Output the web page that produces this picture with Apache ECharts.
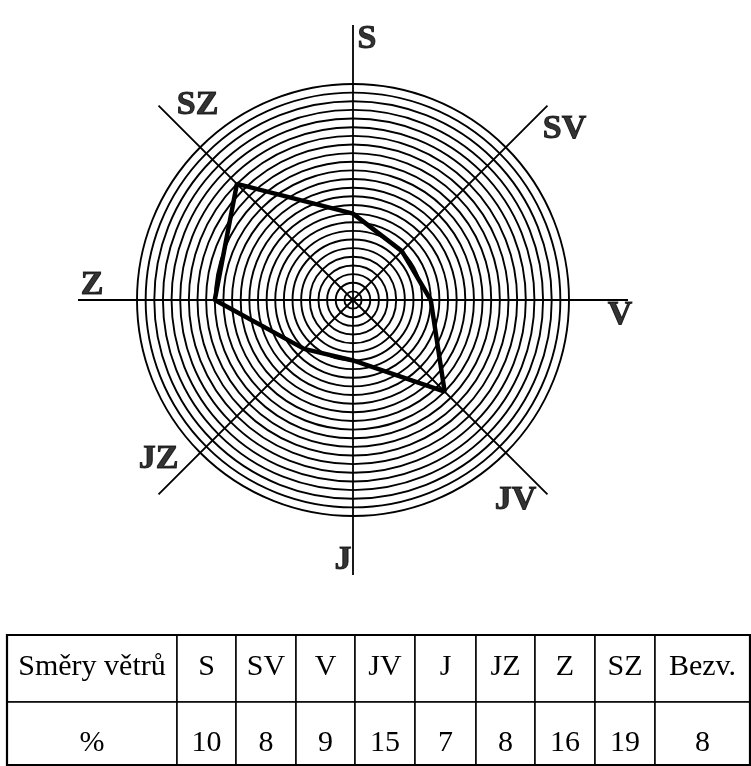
<!DOCTYPE html>
<html>
<head>
<meta charset="utf-8">
<script src="https://cdn.jsdelivr.net/npm/echarts@6/dist/echarts.min.js"></script>
<style>
  html, body { margin: 0; padding: 0; background: #fff; }
  #chart { width: 751px; height: 766px; }
</style>
</head>
<body>
<div id="chart"></div>
<script>
// směry větrů a jejich podíl (%)
const directions = ['S', 'SV', 'V', 'JV', 'J', 'JZ', 'Z', 'SZ']
const windShare = [10, 8, 9, 15, 7, 8, 16, 19]
const calmLabel = 'Bezv.'
const calmShare = 8
const ringMax = 25

// tabulka pod grafem
const headFirst = 'Směry větrů'
const rowFirst = '%'

const serif = '"Liberation Serif", "DejaVu Serif", serif'

// posun popisků od konců os (px)
const labelShift = {
  S: [14, 14], SV: [17, 24], V: [-8, 15], JV: [-32, 6],
  J: [-10, -15], JZ: [0, -35], Z: [14, -15], SZ: [39, 0]
}

const myChart = echarts.init(document.getElementById('chart'))

// úhel každého směru (ve stupních, po směru hodinových ručiček od severu)
const step = 360 / directions.length
const polyData = directions.map((d, i) => [windShare[i], i * step])
// uzavřít polygon
polyData.push([windShare[0], 360])

// tabulka
const colEdges = [7, 177, 236, 296, 355, 415, 476, 535, 595, 655, 750]
const rowEdges = [635, 702, 765]
const tableRows = [
  [headFirst].concat(directions, [calmLabel]),
  [rowFirst].concat(windShare.map(String), [String(calmShare)])
]
const textY = [667, 743]
const tableEls = []
tableRows.forEach((row, r) => {
  row.forEach((txt, c) => {
    tableEls.push({
      type: 'rect',
      shape: { x: colEdges[c], y: rowEdges[r], width: colEdges[c + 1] - colEdges[c], height: rowEdges[r + 1] - rowEdges[r] },
      style: { fill: '#fff', stroke: '#000', lineWidth: 1.5 }
    })
  })
})
tableEls.push({
  type: 'rect',
  shape: { x: colEdges[0], y: rowEdges[0], width: colEdges[colEdges.length - 1] - colEdges[0], height: rowEdges[2] - rowEdges[0] },
  style: { fill: 'none', stroke: '#000', lineWidth: 2.2 }
})
tableRows.forEach((row, r) => {
  row.forEach((txt, c) => {
    tableEls.push({
      type: 'text',
      x: (colEdges[c] + colEdges[c + 1]) / 2,
      y: textY[r],
      style: { text: txt, fill: '#000', font: '30px ' + serif, align: 'center', verticalAlign: 'middle' }
    })
  })
})

const option = {
  backgroundColor: '#fff',
  animation: false,
  polar: [
    { center: [353, 300], radius: 216 },
    { center: [353, 300], radius: 275 }
  ],
  angleAxis: [
    {
      polarIndex: 0,
      type: 'value',
      min: 0,
      max: 360,
      interval: step,
      startAngle: 90,
      axisLine: { show: false },
      axisTick: { show: false },
      axisLabel: { show: false },
      splitLine: { show: false }
    },
    {
      polarIndex: 1,
      type: 'category',
      data: directions,
      boundaryGap: false,
      startAngle: 90,
      axisLine: { show: false },
      axisTick: { show: false },
      axisLabel: { show: false },
      splitLine: { show: true, lineStyle: { color: '#000', width: 1.8 } }
    }
  ],
  radiusAxis: [
    {
      polarIndex: 0,
      type: 'value',
      min: 0,
      max: ringMax,
      interval: 1,
      axisLine: { show: false },
      axisTick: { show: false },
      axisLabel: { show: false },
      splitLine: { show: true, lineStyle: { color: '#000', width: 1.9 } }
    },
    {
      polarIndex: 1,
      type: 'value',
      min: 0,
      max: 1,
      show: false,
      splitLine: { show: false }
    }
  ],
  series: [
    {
      type: 'line',
      coordinateSystem: 'polar',
      polarIndex: 0,
      data: polyData,
      symbol: 'none',
      clip: false,
      lineStyle: { color: '#000', width: 4.5 },
      z: 5
    },
    {
      type: 'scatter',
      coordinateSystem: 'polar',
      polarIndex: 1,
      symbolSize: 0,
      silent: true,
      data: directions.map(d => ({
        name: d,
        value: [1, d],
        label: { offset: labelShift[d] }
      })),
      label: {
        show: true,
        position: 'inside',
        formatter: '{b}',
        color: '#000',
        textBorderColor: '#000',
        textBorderWidth: 1,
        fontFamily: serif,
        fontWeight: 'bold',
        fontSize: 34,
        align: 'center',
        verticalAlign: 'middle'
      }
    }
  ],
  graphic: tableEls
}

myChart.setOption(option)
</script>
</body>
</html>
